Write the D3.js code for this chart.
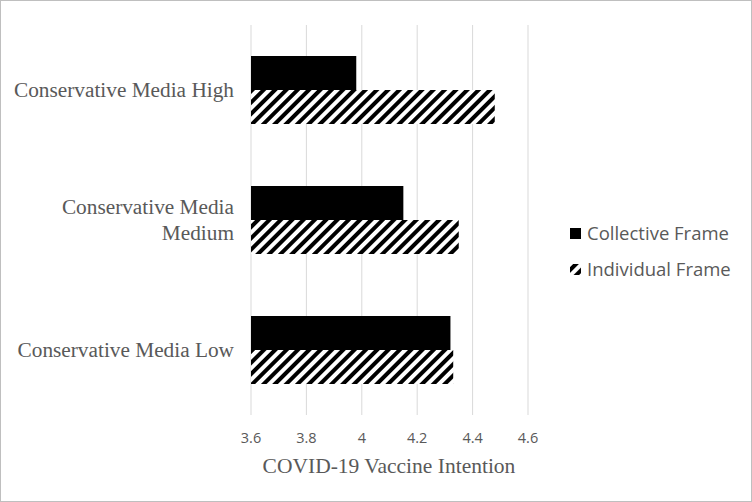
<!DOCTYPE html>
<html><head><meta charset="utf-8">
<script src="https://cdn.jsdelivr.net/npm/d3@7"></script>
<style>body{margin:0;background:#fff}</style></head>
<body><svg id="c" width="752" height="502"></svg>
<script>
const categories = ["Conservative Media High", "Conservative Media Medium", "Conservative Media Low"];
const categoryLines = [["Conservative Media High"], ["Conservative Media", "Medium"], ["Conservative Media Low"]];
const collective = [3.98, 4.15, 4.32];
const individual = [4.48, 4.35, 4.33];
const ticks = [3.6, 3.8, 4.0, 4.2, 4.4, 4.6];
const seriesNames = ["Collective Frame", "Individual Frame"];

const svg = d3.select("#c");
svg.append("rect").attr("x",0.5).attr("y",0.5).attr("width",751).attr("height",501).attr("fill","#fff").attr("stroke","#bfbfbf");
const defs = svg.append("defs");
const pat = defs.append("pattern").attr("id","hatch").attr("patternUnits","userSpaceOnUse")
  .attr("width",8).attr("height",8).attr("patternTransform","rotate(45)");
pat.append("rect").attr("width",8).attr("height",8).attr("fill","#fff");
pat.append("rect").attr("x",0).attr("width",4).attr("height",8).attr("fill","#000");

const x = d3.scaleLinear().domain([3.6,4.6]).range([251,528]);
const y = d3.scaleBand().domain(categories).range([25,415]);

svg.append("g").selectAll("line").data(ticks).join("line")
  .attr("x1",d=>x(d)).attr("x2",d=>x(d)).attr("y1",25).attr("y2",415)
  .attr("stroke","#d9d9d9").attr("stroke-width",1);
svg.append("g").selectAll("text").data(ticks).join("text")
  .attr("x",d=>x(d)).attr("y",443).attr("text-anchor","middle")
  .attr("font-family","Open Sans, sans-serif").attr("font-size",14.5).attr("fill","#595959")
  .text(d=>d3.format("")(+d.toFixed(1)));

const bh = 34;
categories.forEach((c,i)=>{
  const cy = y(c)+y.bandwidth()/2;
  svg.append("rect").attr("x",x(3.6)).attr("y",cy-bh).attr("width",x(collective[i])-x(3.6)).attr("height",bh).attr("fill","#000");
  svg.append("rect").attr("x",x(3.6)).attr("y",cy).attr("width",x(individual[i])-x(3.6)).attr("height",bh).attr("fill","url(#hatch)");
  const lines = categoryLines[i];
  lines.forEach((t,j)=>{
    svg.append("text").attr("x",234).attr("y",cy+7+(j-(lines.length-1)/2)*26)
      .attr("text-anchor","end").attr("font-family","Liberation Serif, serif").attr("font-size",21.3)
      .attr("fill","#595959").text(t);
  });
});

svg.append("text").attr("x",389).attr("y",473).attr("text-anchor","middle")
  .attr("font-family","Liberation Serif, serif").attr("font-size",21.5).attr("fill","#595959")
  .text("COVID-19 Vaccine Intention");

seriesNames.forEach((s,i)=>{
  const ly = 234 + i*36;
  svg.append("rect").attr("x",570).attr("y",ly-6).attr("width",11).attr("height",11)
    .attr("fill", i===0 ? "#000" : "url(#hatch)");
  svg.append("text").attr("x",587).attr("y",ly+6).attr("font-family","Open Sans, sans-serif")
    .attr("font-size",18.5).attr("fill","#595959").text(s);
});
</script></body></html>
